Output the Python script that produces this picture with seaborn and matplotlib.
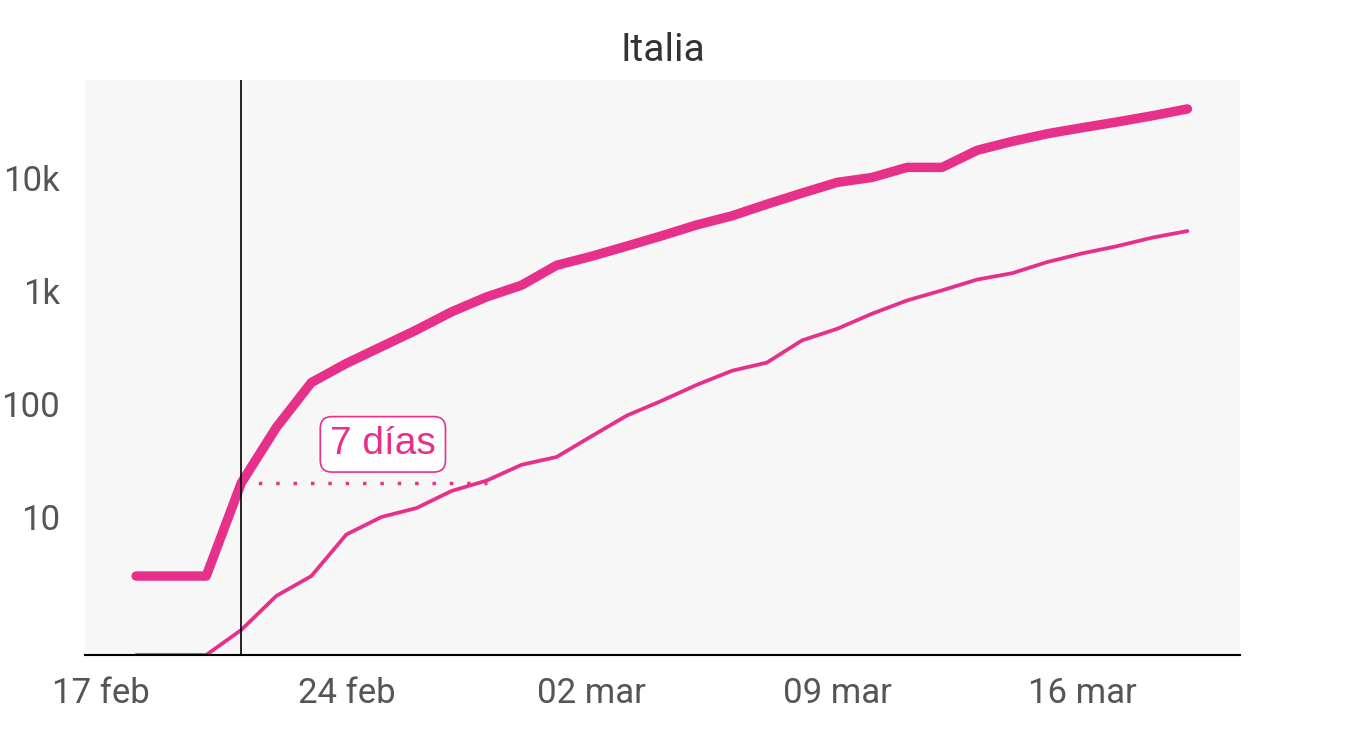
import matplotlib
matplotlib.use("Agg")
import matplotlib.pyplot as plt
import seaborn as sns
import pandas as pd
import numpy as np

# Italia, casos y fallecidos acumulados
dates = pd.date_range("2020-02-18", "2020-03-19", freq="D")
cases = [3, 3, 3, 20, 62, 155, 229, 322, 453, 655, 888, 1128, 1694, 2036, 2502,
         3089, 3858, 4636, 5883, 7375, 9172, 10149, 12462, 12462, 17660, 21157,
         24747, 27980, 31506, 35713, 41035]
deaths = [0, 0, 0, 1, 2, 3, 7, 10, 12, 17, 21, 29, 34, 52, 79, 107, 148, 197,
          233, 366, 463, 631, 827, 1016, 1266, 1441, 1809, 2158, 2503, 2978, 3405]

xtick_dates = pd.to_datetime(["2020-02-17", "2020-02-24", "2020-03-02", "2020-03-09", "2020-03-16"])
xtick_labels = ["17 feb", "24 feb", "02 mar", "09 mar", "16 mar"]
ytick_vals = [10, 100, 1000, 10000]
ytick_labels = ["10", "100", "1k", "10k"]

pink = "#e6308a"
ymin, ymax = 0.6, 74000

df = pd.DataFrame({"fecha": dates, "casos": cases,
                   "fallecidos": np.clip(deaths, ymin, None)})

sns.set_style("white")
plt.rcParams["font.family"] = ["Roboto", "DejaVu Sans"]

fig = plt.figure(figsize=(13.6, 7.36), dpi=100)
ax = fig.add_axes([85 / 1360, 81 / 736, 1155 / 1360, 575 / 736])
ax.set_facecolor("#f7f7f7")

sns.lineplot(data=df, x="fecha", y="casos", ax=ax, color=pink, linewidth=6.8,
             solid_capstyle="round", solid_joinstyle="round")
sns.lineplot(data=df, x="fecha", y="fallecidos", ax=ax, color=pink, linewidth=2.7,
             solid_capstyle="round")

ax.set_yscale("log")
ax.set_ylim(ymin, ymax)
ax.set_xlim(pd.Timestamp("2020-02-16 13:00"), pd.Timestamp("2020-03-20 12:00"))

# referencia: 7 días entre 20 casos y ~20 fallecidos
t0 = pd.Timestamp("2020-02-21")
t1 = pd.Timestamp("2020-02-28")
ax.axvline(t0, color="black", linewidth=1.2, zorder=3)
ax.hlines(20, t0, t1, colors=pink, linestyles=(0, (1, 4)), linewidth=2.5)
ax.text(pd.Timestamp("2020-02-25 01:00"), 44, "7 días", color=pink, fontsize=28,
        family=["Liberation Sans", "DejaVu Sans"], ha="center", va="center",
        bbox=dict(boxstyle="round,pad=0.25,rounding_size=0.3", fc="white", ec=pink, lw=1.2))

ax.set_xticks(xtick_dates)
ax.set_xticklabels(xtick_labels)
ax.set_yticks(ytick_vals)
ax.set_yticklabels(ytick_labels)
ax.minorticks_off()
ax.tick_params(axis="both", length=0, labelsize=25, colors="#555555")
ax.tick_params(axis="y", pad=18)
ax.tick_params(axis="x", pad=16)
ax.set_xlabel("")
ax.set_ylabel("")

for s in ["left", "right", "top"]:
    ax.spines[s].set_visible(False)
ax.spines["bottom"].set_color("black")
ax.spines["bottom"].set_linewidth(1.5)

ax.set_title("Italia", fontsize=28, color="#333333", pad=14)

plt.savefig("out.png", dpi=100)
